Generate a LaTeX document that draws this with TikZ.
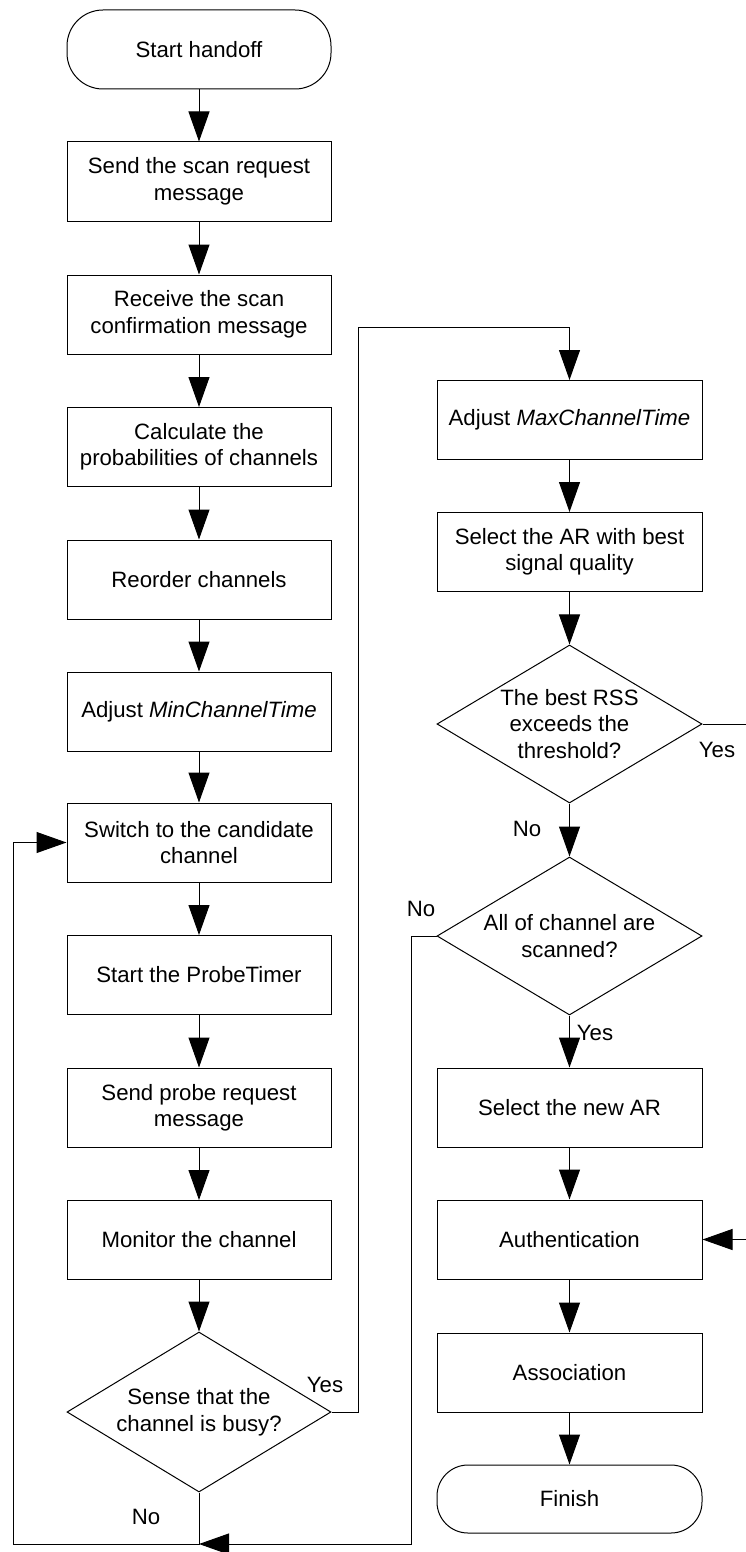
\documentclass[tikz,border=0pt]{standalone}
\usepackage{fontspec}
\setmainfont{Liberation Sans}
\usetikzlibrary{arrows.meta,shapes.geometric}

\begin{document}
\begin{tikzpicture}[x=1pt,y=-1pt,
  every node/.style={font=\fontsize{22.2}{26.5}\selectfont},
  proc/.style={draw, line width=1pt, minimum width=264pt, minimum height=79pt, align=center, inner sep=0pt},
  term/.style={proc, rounded corners=36pt},
  decision/.style={draw, diamond, shape aspect=1.66, line width=1pt, inner sep=0pt,
                   minimum width=264pt, minimum height=160pt, align=center},
  flow/.style={line width=1pt, -{Triangle[length=30pt,width=21pt]}},
  lbl/.style={inner sep=0pt}
]
\useasboundingbox (0,0) rectangle (745,1552);

% left column
\node[term] (start) at (199,49.5) {Start handoff};
\node[proc] (s1) at (199,181.5) {Send the scan request\\message};
\node[proc] (s2) at (199,314.5) {Receive the scan\\confirmation message};
\node[proc] (s3) at (199,447) {Calculate the\\probabilities of channels};
\node[proc] (s4) at (199,579.5) {Reorder channels};
\node[proc] (s5) at (199,711.5) {Adjust \textit{MinChannelTime}};
\node[proc] (s6) at (199,842.5) {Switch to the candidate\\channel};
\node[proc] (s7) at (199,975) {Start the ProbeTimer};
\node[proc] (s8) at (199,1107.5) {Send probe request\\message};
\node[proc] (s9) at (199,1240) {Monitor the channel};
\node[decision] (busy) at (199,1412) {Sense that the\\channel is busy?};

% right column
\node[proc, minimum width=265pt] (r1) at (569.5,420) {Adjust \textit{MaxChannelTime}};
\node[proc, minimum width=265pt] (r2) at (569.5,552) {Select the AR with best\\signal quality};
\node[decision, minimum width=265pt, minimum height=158pt] (rss) at (569.5,724) {The best RSS\\exceeds the\\threshold?};
\node[decision, minimum width=265pt, minimum height=158pt] (all) at (569.5,936) {All of channel are\\scanned?};
\node[proc, minimum width=265pt] (r3) at (569.5,1107.5) {Select the new AR};
\node[proc, minimum width=265pt] (auth) at (569.5,1239.5) {Authentication};
\node[proc, minimum width=265pt] (assoc) at (569.5,1372.5) {Association};
\node[term, minimum width=265pt, minimum height=68pt, rounded corners=31pt] (fin) at (569.5,1499) {Finish};

% bend points of the loops
\coordinate (ybend) at (358,327);
\coordinate (loopL) at (13,1544);
\coordinate (loopR) at (411,1544);
\coordinate (join) at (199,1544);
\coordinate (rbend) at (748,724);

% straight flow
\foreach \a/\b in {start/s1,s1/s2,s2/s3,s3/s4,s4/s5,s5/s6,s6/s7,s7/s8,s8/s9,s9/busy,
                   r1/r2,r2/rss,rss/all,all/r3,r3/auth,auth/assoc,assoc/fin}
  \draw[flow] (\a) -- (\b);

% branches
\draw[flow] (busy.east) -| (ybend) -| (r1.north);
\draw[flow] (busy.south) |- (loopL) |- (s6.west);
\draw[flow] (all.west) -| (loopR) -- (join);
\draw[flow] (rss.east) -- (rbend) |- (auth.east);

% branch labels
\node[lbl] (yes1) at (325,1385) {Yes};
\node[lbl] (no1) at (146,1517) {No};
\node[lbl] (yes2) at (717,750) {Yes};
\node[lbl] (no2) at (527,829) {No};
\node[lbl] (no3) at (421,909) {No};
\node[lbl] (yes3) at (595,1033) {Yes};
\end{tikzpicture}
\end{document}
